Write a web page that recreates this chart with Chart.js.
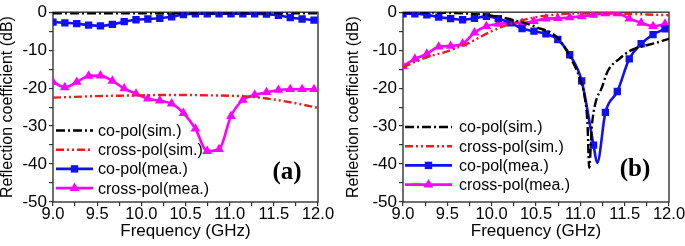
<!DOCTYPE html>
<html>
<head>
<meta charset="utf-8">
<script src="https://cdn.jsdelivr.net/npm/chart.js@4.4.1/dist/chart.umd.min.js"></script>
<style>
  body { margin: 0; background: #fff; }
  .panel { position: absolute; top: 0; height: 246px; overflow: hidden; }
</style>
</head>
<body>
<div class="panel" style="left:0;width:342px"><canvas id="chartA" width="342" height="246"></canvas></div>
<div class="panel" style="left:342px;width:343px"><canvas id="chartB" width="351" height="246"></canvas></div>
<script>
// marker positions shared by the measured curves (GHz)
const mkFreq = [9.0, 9.134, 9.269, 9.403, 9.537, 9.672, 9.806, 9.940, 10.074, 10.209, 10.343, 10.477,
  10.612, 10.746, 10.880, 11.015, 11.149, 11.283, 11.417, 11.552, 11.686, 11.820, 11.955];

// (a) simulated
const simFreqA = [9.0, 9.25, 9.5, 9.75, 10.0, 10.25, 10.5, 10.75, 11.0, 11.25, 11.5, 11.75, 12.0];
const coSimA = [-0.3, -0.3, -0.3, -0.3, -0.3, -0.3, -0.3, -0.3, -0.3, -0.3, -0.3, -0.3, -0.3];
const crossSimA = [-22.5, -22.3, -22.1, -22.0, -21.9, -21.8, -21.8, -21.9, -22.0, -22.3, -23.0, -24.0, -25.2];
// (a) measured
const coMeaA = [-2.6, -2.8, -3.0, -3.4, -3.6, -3.2, -2.5, -2.0, -1.8, -1.6, -1.2, -0.6, -0.4, -0.4, -0.4,
  -0.4, -0.4, -0.4, -0.5, -0.8, -1.4, -1.8, -2.1];
const crossMeaA = [-18.4, -19.8, -18.4, -16.8, -16.7, -18.1, -20.1, -21.5, -22.8, -23.3, -24.1, -26.6,
  -30.7, -36.6, -36.1, -27.4, -23.1, -21.8, -21.1, -20.5, -20.3, -20.3, -20.3];

// (b) simulated
const coSimFreqB = [9.0, 9.25, 9.5, 9.75, 10.0, 10.25, 10.5, 10.75, 10.9, 11.0, 11.05, 11.08, 11.1, 11.13,
  11.17, 11.24, 11.31, 11.44, 11.56, 11.71, 11.82, 12.0];
const coSimB = [-0.1, -0.1, -0.2, -0.4, -0.9, -2.1, -3.9, -6.9, -12.5, -17.8, -22.5, -29.0, -41.0, -30.0,
  -24.0, -20.0, -15.5, -12.3, -10.2, -8.9, -8.3, -7.0];
const simFreqB = [9.0, 9.25, 9.5, 9.75, 10.0, 10.25, 10.5, 10.75, 11.0, 11.25, 11.5, 11.75, 12.0];
const crossSimB = [-14.5, -12.0, -10.3, -8.0, -5.0, -2.8, -1.3, -0.6, -0.3, -0.3, -0.4, -0.6, -0.8];
// (b) measured (co-pol has one extra point at the dip, between markers)
const coMeaFreqB = [9.0, 9.134, 9.269, 9.403, 9.537, 9.672, 9.806, 9.940, 10.074, 10.209, 10.343, 10.477,
  10.612, 10.746, 10.880, 11.015, 11.149, 11.19, 11.283, 11.417, 11.552, 11.686, 11.820, 11.955];
const coMeaB = [-0.4, -0.4, -0.7, -1.3, -1.7, -2.0, -1.6, -1.1, -1.7, -2.8, -4.3, -5.0, -5.7, -7.2, -11.2,
  -18.1, -35.0, -39.7, -26.4, -20.9, -12.3, -8.3, -5.9, -4.4];
const crossMeaB = [-14.2, -12.3, -11.0, -9.1, -8.9, -8.3, -5.4, -3.7, -3.1, -2.8, -2.8, -2.4, -1.7, -1.6,
  -1.4, -1.1, -0.7, -0.3, -0.3, -1.7, -2.8, -3.7, -3.1];

const yTicks = [0, -10, -20, -30, -40, -50];
const xTicks = [9.0, 9.5, 10.0, 10.5, 11.0, 11.5, 12.0];
const legendNames = ['co-pol(sim.)', 'cross-pol(sim.)', 'co-pol(mea.)', 'cross-pol(mea.)'];

const FONT = 'Liberation Sans, Arial, sans-serif';

function pts(xs, ys) {
  return xs.map((x, i) => ({ x: x, y: ys[i] }));
}
function markerRadius(r) {
  return c => (c.raw && mkFreq.includes(c.raw.x)) ? r : 0;
}

function makeDatasets(coSim, crossSim, coMea, crossMea) {
  return [
    { label: legendNames[0], data: coSim, borderColor: '#000', borderWidth: 2.4,
      borderDash: [9, 3, 2, 3], pointRadius: 0 },
    { label: legendNames[1], data: crossSim, borderColor: '#ee1c1c', borderWidth: 2.4,
      borderDash: [8, 3, 2, 3, 2, 3], pointRadius: 0 },
    { label: legendNames[2], data: coMea, borderColor: '#1010f0', backgroundColor: '#1010f0', borderWidth: 2.6,
      pointStyle: 'rect', pointRadius: markerRadius(5.2), pointBorderWidth: 0, mark: 'rect' },
    { label: legendNames[3], data: crossMea, borderColor: '#ff00ff', backgroundColor: '#ff00ff', borderWidth: 2.6,
      pointStyle: 'triangle', pointRadius: markerRadius(5.6), pointBorderWidth: 0, mark: 'tri' }
  ];
}

// frame, in-plot legend and panel letter
const panelPlugin = {
  id: 'panel',
  beforeDatasetsDraw(chart) {
    const { ctx, chartArea: a } = chart;
    ctx.save();
    ctx.strokeStyle = '#333';
    ctx.lineWidth = 1.4;
    ctx.strokeRect(a.left, a.top, a.right - a.left, a.bottom - a.top);
    ctx.restore();
  },
  afterDraw(chart, args, o) {
    const { ctx, chartArea: a } = chart;
    ctx.save();
    chart.data.datasets.forEach((ds, i) => {
      const y = o.rowY + i * 19.2;
      const x0 = a.left + o.lineX, x1 = x0 + o.lineLen;
      ctx.beginPath();
      ctx.setLineDash(ds.borderDash || []);
      ctx.lineWidth = ds.borderWidth;
      ctx.strokeStyle = ds.borderColor;
      ctx.moveTo(x0, y);
      ctx.lineTo(x1, y);
      ctx.stroke();
      ctx.setLineDash([]);
      const cx = (x0 + x1) / 2;
      ctx.fillStyle = ds.borderColor;
      if (ds.mark === 'rect') {
        ctx.fillRect(cx - 3.7, y - 3.7, 7.4, 7.4);
      } else if (ds.mark === 'tri') {
        ctx.beginPath();
        ctx.moveTo(cx, y - 5.6);
        ctx.lineTo(cx + 4.9, y + 2.8);
        ctx.lineTo(cx - 4.9, y + 2.8);
        ctx.closePath();
        ctx.fill();
      }
      ctx.fillStyle = '#000';
      ctx.font = '16px ' + FONT;
      ctx.textAlign = 'left';
      ctx.textBaseline = 'middle';
      ctx.fillText(ds.label, x1 + o.textGap, y + 1);
    });
    ctx.font = 'bold 25px Liberation Serif, Times New Roman, serif';
    ctx.textAlign = 'center';
    ctx.textBaseline = 'middle';
    ctx.fillText(o.letter, o.letterX, o.letterY);
    ctx.restore();
  }
};

function makeOptions(yWidth, titlePad, legend) {
  return {
    responsive: false,
    animation: false,
    layout: { padding: { top: 7, right: 24, left: 0, bottom: 0 } },
    elements: { line: { cubicInterpolationMode: 'monotone' } },
    plugins: {
      legend: { display: false },
      tooltip: { enabled: false },
      panel: legend
    },
    scales: {
      x: {
        type: 'linear', min: 9, max: 12,
        border: { display: false },
        grid: { drawOnChartArea: false, drawTicks: true, tickLength: 4, color: '#333', lineWidth: 1.2 },
        ticks: {
          stepSize: 0.25, autoSkip: false, maxRotation: 0, padding: -1, color: '#000',
          font: { family: FONT, size: 16.5 },
          callback: v => xTicks.includes(v) ? v.toFixed(1) : ''
        },
        title: { display: true, text: 'Frequency (GHz)', color: '#000',
          font: { family: FONT, size: 17 }, padding: { top: 0, bottom: 4 } },
        afterFit: s => { s.height = 44; }
      },
      y: {
        min: -50, max: 0,
        border: { display: false },
        grid: { drawOnChartArea: false, drawTicks: true, tickLength: 4, color: '#333', lineWidth: 1.2 },
        ticks: {
          stepSize: 5, autoSkip: false, padding: 2, color: '#000',
          font: { family: FONT, size: 17 },
          callback: v => yTicks.includes(v) ? String(v) : ''
        },
        title: { display: true, text: 'Reflection coefficient (dB)', color: '#000',
          font: { family: FONT, size: 16, lineHeight: 1 }, padding: { top: titlePad, bottom: 0 } },
        afterFit: s => { s.width = yWidth; }
      }
    }
  };
}

new Chart(document.getElementById('chartA'), {
  type: 'line',
  data: {
    datasets: makeDatasets(pts(simFreqA, coSimA), pts(simFreqA, crossSimA),
      pts(mkFreq, coMeaA), pts(mkFreq, crossMeaA))
  },
  options: makeOptions(53, 0, { lineX: 3, lineLen: 37, textGap: 5, rowY: 130.5,
    letter: '(a)', letterX: 287, letterY: 173 }),
  plugins: [panelPlugin]
});

new Chart(document.getElementById('chartB'), {
  type: 'line',
  data: {
    datasets: makeDatasets(pts(coSimFreqB, coSimB), pts(simFreqB, crossSimB),
      pts(coMeaFreqB, coMeaB), pts(mkFreq, crossMeaB))
  },
  options: makeOptions(61, 4, { lineX: 2, lineLen: 47, textGap: 7, rowY: 127,
    letter: '(b)', letterX: 293, letterY: 170 }),
  plugins: [panelPlugin]
});
</script>
</body>
</html>
